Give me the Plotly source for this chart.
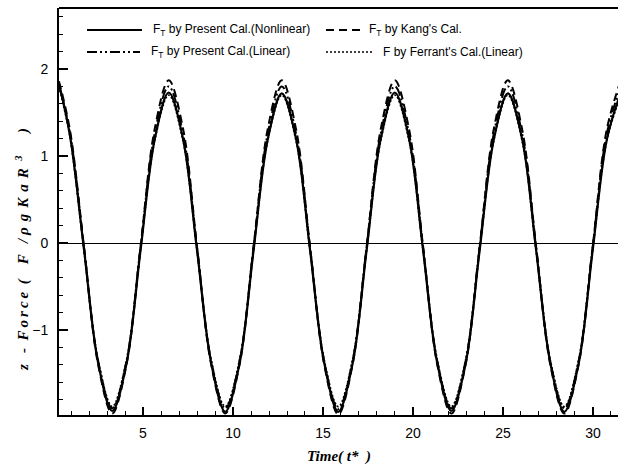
import plotly.graph_objects as go

# ---- data ----
time = [0.33, 0.94, 1.72, 2.51, 3.29, 4.08, 4.86, 5.65, 6.43, 7.22, 8.00, 8.79, 9.57,
        10.36, 11.14, 11.93, 12.71, 13.50, 14.28, 15.07, 15.85, 16.64, 17.42, 18.21,
        18.99, 19.78, 20.56, 21.35, 22.13, 22.92, 23.70, 24.49, 25.27, 26.06, 26.84,
        27.63, 28.41, 29.20, 29.98, 30.77, 31.55]

ft_nonlinear = [1.83, 1.24, -0.07, -1.38, -1.93, -1.39, -0.09, 1.19, 1.73, 1.20, -0.08,
                -1.38, -1.94, -1.39, -0.09, 1.19, 1.72, 1.20, -0.08, -1.38, -1.94, -1.39,
                -0.09, 1.20, 1.73, 1.20, -0.08, -1.38, -1.93, -1.39, -0.09, 1.19, 1.72,
                1.20, -0.08, -1.38, -1.94, -1.39, -0.09, 1.19, 1.73]

ft_kang = [1.86, 1.30, -0.04, -1.40, -1.96, -1.40, -0.05, 1.31, 1.87, 1.32, -0.04,
           -1.40, -1.96, -1.40, -0.05, 1.31, 1.87, 1.31, -0.04, -1.40, -1.97, -1.40,
           -0.05, 1.31, 1.87, 1.31, -0.04, -1.40, -1.96, -1.40, -0.05, 1.31, 1.87,
           1.31, -0.04, -1.40, -1.96, -1.40, -0.05, 1.31, 1.87]

ft_linear = [1.82, 1.27, -0.05, -1.36, -1.90, -1.36, -0.05, 1.26, 1.80, 1.26, -0.05,
             -1.36, -1.90, -1.36, -0.05, 1.26, 1.80, 1.26, -0.05, -1.36, -1.91, -1.36,
             -0.05, 1.26, 1.80, 1.26, -0.05, -1.36, -1.90, -1.36, -0.05, 1.26, 1.80,
             1.26, -0.05, -1.36, -1.90, -1.36, -0.05, 1.26, 1.80]

f_ferrant = [1.80, 1.22, -0.08, -1.35, -1.88, -1.35, -0.08, 1.18, 1.70, 1.18, -0.08,
             -1.35, -1.88, -1.35, -0.08, 1.18, 1.70, 1.18, -0.08, -1.35, -1.88, -1.35,
             -0.08, 1.18, 1.70, 1.18, -0.08, -1.35, -1.88, -1.35, -0.08, 1.18, 1.70,
             1.18, -0.08, -1.35, -1.88, -1.35, -0.08, 1.18, 1.70]

x_ticks = [5, 10, 15, 20, 25, 30]
y_ticks = [-1, 0, 1, 2]

legend_labels = ["F<sub>T</sub> by Present Cal.(Nonlinear)",
                 "F<sub>T</sub> by Kang's Cal.",
                 "F<sub>T</sub> by Present Cal.(Linear)",
                 "F by Ferrant's Cal.(Linear)"]

# ---- layout geometry (pixels) ----
W, H = 618, 466
L, R, T, B = 59, 618, 8, 415


def px(x):
    return (x - L) / (R - L)


def py(y):
    return (B - y) / (B - T)


dash_solid = "solid"
dash_long = "8px,5px"
dash_dashdot = "10px,3px,2px,3px,2px,3px"
dash_dot = "2px,2px"

series = [
    (ft_nonlinear, dash_solid, 2.2),
    (ft_kang, dash_long, 2.0),
    (ft_linear, dash_dashdot, 2.0),
    (f_ferrant, dash_dot, 1.8),
]

fig = go.Figure()
for vals, dash, w in series:
    fig.add_trace(go.Scatter(x=time, y=vals, mode="lines",
                             line=dict(color="black", width=w, dash=dash,
                                       shape="spline"),
                             showlegend=False, hoverinfo="skip"))

shapes = []
annotations = []

# top border
shapes.append(dict(type="line", xref="paper", yref="paper", x0=0, x1=1, y0=1, y1=1,
                   line=dict(color="black", width=2)))

# manual legend
leg = [
    (87, 142, 151, 30, dash_solid, 2.0),
    (326, 360, 367, 30, dash_long, 2.0),
    (87, 140, 149, 52, dash_dashdot, 2.0),
    (326, 374, 381, 52, dash_dot, 1.5),
]
for (x0, x1, xt, yy, dash, w), lab in zip(leg, legend_labels):
    shapes.append(dict(type="line", xref="paper", yref="paper",
                       x0=px(x0), x1=px(x1), y0=py(yy), y1=py(yy),
                       line=dict(color="black", width=w, dash=dash)))
    annotations.append(dict(xref="paper", yref="paper", x=px(xt), y=py(yy),
                            xanchor="left", yanchor="middle", text=lab,
                            showarrow=False,
                            font=dict(family="Liberation Sans", size=12,
                                      color="black")))

# axis titles
title_font = dict(family="Liberation Serif", size=15, color="black",
                  weight="bold", style="italic")
annotations.append(dict(xref="paper", yref="paper", x=0.5, y=py(456),
                        xanchor="center", yanchor="middle",
                        text="Time( t*  )", showarrow=False, font=title_font))
sp = "\u00a0"
th = "\u2009"
ytitle = ("z" + sp * 3 + "-" + sp * 2 + th.join("Force") + sp * 2 + "(" + sp * 4 + "F"
          + sp * 3 + "/" + sp + (th * 2).join("ρgKaR") + sp * 2 + "<sup>3</sup>"
          + sp * 6 + ")")
annotations.append(dict(xref="paper", yref="paper", x=px(23), y=py(250),
                        xanchor="center", yanchor="middle", textangle=-90,
                        text=ytitle, showarrow=False, font=title_font))

tick_font = dict(family="Liberation Sans", size=14, color="black")

fig.update_layout(
    width=W, height=H,
    margin=dict(l=L, r=W - R, t=T, b=H - B, pad=0),
    paper_bgcolor="white", plot_bgcolor="white",
    shapes=shapes, annotations=annotations,
    xaxis=dict(range=[0.333, 31.39], tickvals=x_ticks, ticks="inside", ticklen=8,
               tickwidth=2, tickcolor="black", showline=True, linecolor="black",
               linewidth=2, showgrid=False, zeroline=False, tickfont=tick_font,
               ticklabelstandoff=4, automargin=False,
               minor=dict(ticks="inside", dtick=1, ticklen=4, tickwidth=1,
                          tickcolor="black", showgrid=False)),
    yaxis=dict(range=[-1.977, 2.701], tickvals=y_ticks, ticks="inside", ticklen=9,
               tickwidth=2, tickcolor="black", showline=True, linecolor="black",
               linewidth=2, showgrid=False, zeroline=True, zerolinecolor="black",
               zerolinewidth=1, tickfont=tick_font, ticklabelstandoff=6,
               automargin=False,
               minor=dict(ticks="inside", dtick=0.2, tick0=0, ticklen=4, tickwidth=1,
                          tickcolor="black", showgrid=False)),
)

fig.write_html("out.html", config={"displayModeBar": False},
               post_script="document.body.style.margin='0px';")
